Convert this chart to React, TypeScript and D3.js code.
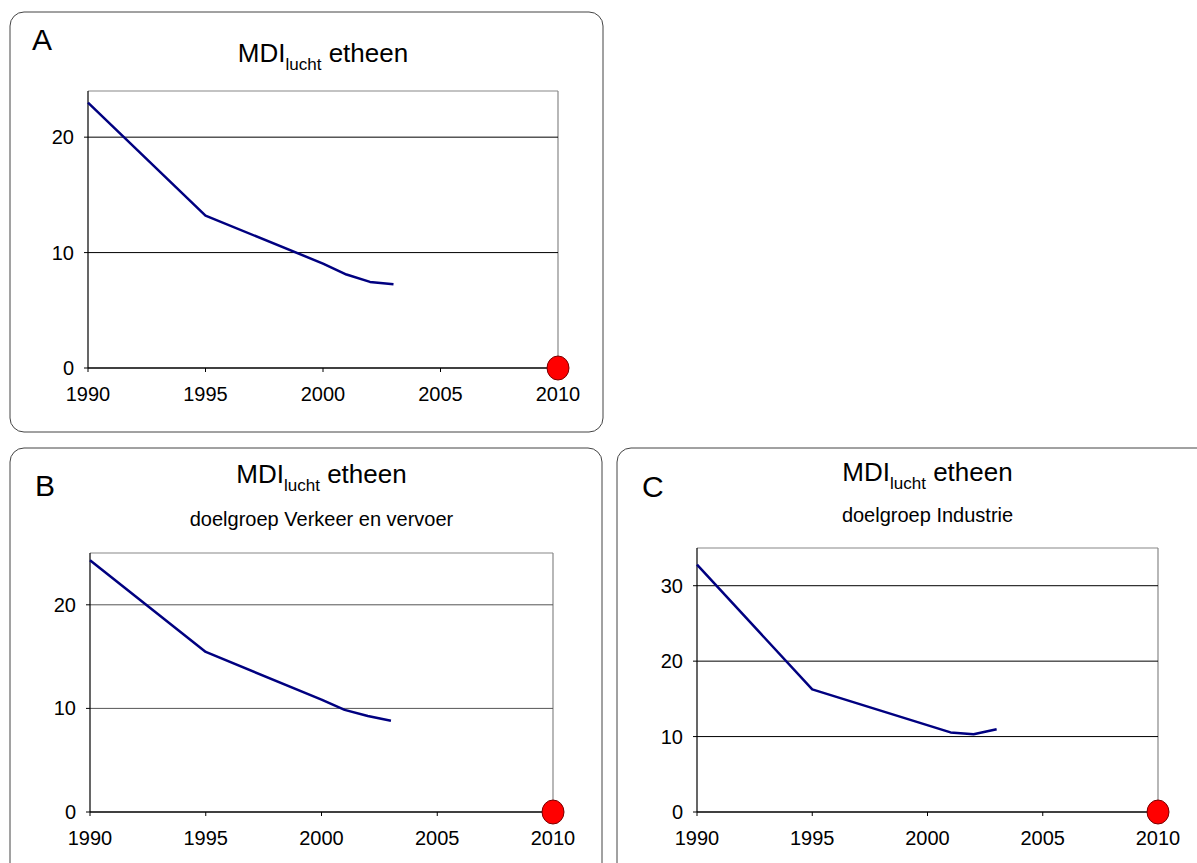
import * as d3 from "d3";

interface Pt {
  year: number;
  value: number;
}

// jaren op de x-as
const xTicks = [1990, 1995, 2000, 2005, 2010];

// doel 2010
const target: Pt = { year: 2010, value: 0 };

const seriesA: Pt[] = [
  { year: 1990, value: 23.0 },
  { year: 1995, value: 13.2 },
  { year: 2000, value: 9.05 },
  { year: 2001, value: 8.1 },
  { year: 2002, value: 7.46 },
  { year: 2003, value: 7.26 },
];

const seriesB: Pt[] = [
  { year: 1990, value: 24.3 },
  { year: 1995, value: 15.45 },
  { year: 2000, value: 10.85 },
  { year: 2001, value: 9.86 },
  { year: 2002, value: 9.26 },
  { year: 2003, value: 8.8 },
];

const seriesC: Pt[] = [
  { year: 1990, value: 32.8 },
  { year: 1995, value: 16.25 },
  { year: 2001, value: 10.55 },
  { year: 2002, value: 10.3 },
  { year: 2003, value: 10.97 },
];

const yTicksA = [0, 10, 20];
const yTicksB = [0, 10, 20];
const yTicksC = [0, 10, 20, 30];

const FONT = "'Liberation Sans', Arial, sans-serif";

interface PanelProps {
  letter: string;
  letterX: number;
  letterY: number;
  box: [number, number, number, number];
  plot: { left: number; right: number; top: number; bottom: number };
  yMax: number;
  yTicks: number[];
  data: Pt[];
  titleY: number;
  subtitle?: string;
  subtitleY?: number;
  gridColor: string;
}

const Panel = (p: PanelProps) => {
  const x = d3.scaleLinear().domain([1990, 2010]).range([p.plot.left, p.plot.right]);
  const y = d3.scaleLinear().domain([0, p.yMax]).range([p.plot.bottom, p.plot.top]);
  const line = d3
    .line<Pt>()
    .x((d) => x(d.year))
    .y((d) => y(d.value));
  const cx = (p.plot.left + p.plot.right) / 2;
  const [bx, by, bw, bh] = p.box;

  return (
    <g fontFamily={FONT}>
      <rect x={bx} y={by} width={bw} height={bh} rx={14} ry={14} fill="white" stroke="#444" strokeWidth={1} />
      <text x={p.letterX} y={p.letterY} fontSize={30}>
        {p.letter}
      </text>
      <text x={cx} y={p.titleY} fontSize={26} textAnchor="middle">
        <tspan>MDI</tspan>
        <tspan fontSize={17} dy={8}>
          lucht
        </tspan>
        <tspan dy={-8}> etheen</tspan>
      </text>
      {p.subtitle && (
        <text x={cx} y={p.subtitleY} fontSize={20} textAnchor="middle">
          {p.subtitle}
        </text>
      )}
      {/* kader van het plotvlak */}
      <line x1={p.plot.left} x2={p.plot.right} y1={p.plot.top} y2={p.plot.top} stroke="#888" strokeWidth={1.2} />
      <line x1={p.plot.right} x2={p.plot.right} y1={p.plot.top} y2={p.plot.bottom} stroke="#888" strokeWidth={1.2} />
      {/* rasterlijnen */}
      {p.yTicks
        .filter((t) => t > 0)
        .map((t) => (
          <line key={t} x1={p.plot.left} x2={p.plot.right} y1={y(t)} y2={y(t)} stroke={p.gridColor} strokeWidth={1} />
        ))}
      {/* y-as */}
      <line x1={p.plot.left} x2={p.plot.left} y1={p.plot.top} y2={p.plot.bottom} stroke="#000" strokeWidth={1.2} />
      {p.yTicks.map((t) => (
        <g key={t}>
          <line x1={p.plot.left - 4} x2={p.plot.left} y1={y(t)} y2={y(t)} stroke="#000" />
          <text x={p.plot.left - 14} y={y(t) + 7} fontSize={20} textAnchor="end">
            {t}
          </text>
        </g>
      ))}
      {/* x-as */}
      <line x1={p.plot.left} x2={p.plot.right} y1={p.plot.bottom} y2={p.plot.bottom} stroke="#000" strokeWidth={1.5} />
      {xTicks.map((t) => (
        <g key={t}>
          <line x1={x(t)} x2={x(t)} y1={p.plot.bottom} y2={p.plot.bottom + 4} stroke="#000" />
          <text x={x(t)} y={p.plot.bottom + 33} fontSize={20} textAnchor="middle">
            {t}
          </text>
        </g>
      ))}
      <path d={line(p.data) ?? ""} fill="none" stroke="#000080" strokeWidth={2.5} strokeLinejoin="round" />
      <ellipse cx={x(target.year)} cy={y(target.value)} rx={11} ry={12} fill="#ff0000" stroke="#700" strokeWidth={1} />
    </g>
  );
};

const App = () => {
  return (
    <svg width={1197} height={863} style={{ position: "absolute", left: 0, top: 0 }}>
      <rect width={1197} height={863} fill="white" />
      <Panel
        letter="A"
        letterX={32}
        letterY={50}
        box={[10, 12, 593, 420]}
        plot={{ left: 88, right: 558, top: 91, bottom: 368 }}
        yMax={24}
        yTicks={yTicksA}
        data={seriesA}
        titleY={62}
        gridColor="#000"
      />
      <Panel
        letter="B"
        letterX={35}
        letterY={496}
        box={[10, 448, 592, 440]}
        plot={{ left: 90, right: 553, top: 553, bottom: 812 }}
        yMax={25}
        yTicks={yTicksB}
        data={seriesB}
        titleY={483}
        subtitle="doelgroep Verkeer en vervoer"
        subtitleY={526}
        gridColor="#555"
      />
      <Panel
        letter="C"
        letterX={642}
        letterY={497}
        box={[617, 448, 600, 440]}
        plot={{ left: 697, right: 1158, top: 548, bottom: 812 }}
        yMax={35}
        yTicks={yTicksC}
        data={seriesC}
        titleY={481}
        subtitle="doelgroep Industrie"
        subtitleY={522}
        gridColor="#000"
      />
    </svg>
  );
};

export default App;
